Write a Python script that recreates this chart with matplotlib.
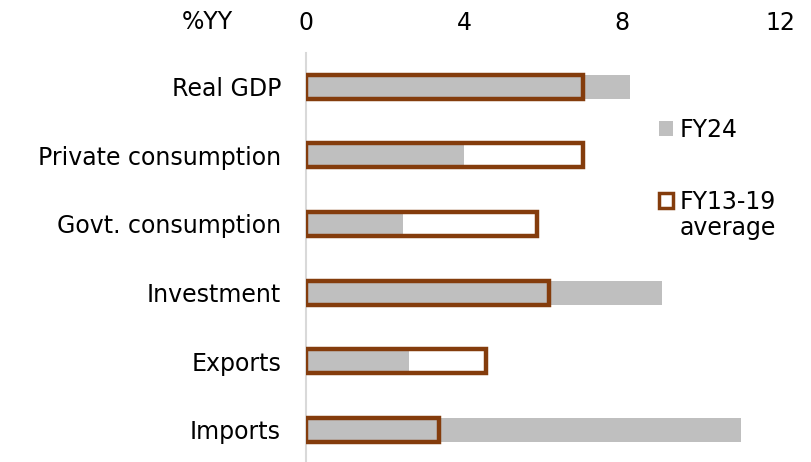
import numpy as np
import matplotlib.pyplot as plt
from matplotlib.patches import Patch

categories = ['Real GDP', 'Private consumption', 'Govt. consumption',
              'Investment', 'Exports', 'Imports']
fy24 = [8.2, 4.0, 2.45, 9.0, 2.6, 11.0]
fy13_19 = [7.0, 7.0, 5.85, 6.15, 4.55, 3.35]
xticks = [0, 4, 8, 12]

gray = '#BFBFBF'
brown = '#843C0C'
fs = 17

fig = plt.figure(figsize=(8.12, 4.62), dpi=100)
ax = fig.add_axes([0.377, -0.004, 0.584, 0.89])

y = np.arange(len(categories))
ax.barh(y, fy24, height=0.35, color=gray, zorder=2)
ax.barh(y, fy13_19, height=0.35, facecolor='none', edgecolor=brown,
        linewidth=3.2, zorder=3)

ax.set_ylim(len(categories) - 0.5, -0.5)
ax.set_xlim(0, 12)
ax.set_xticks(xticks)
ax.set_xticklabels([str(t) for t in xticks])
ax.xaxis.tick_top()
ax.tick_params(axis='x', length=0, pad=13, labelsize=fs)
ax.set_yticks(y)
ax.set_yticklabels(categories)
ax.tick_params(axis='y', length=0, pad=18, labelsize=fs)

for s in ['top', 'right', 'bottom']:
    ax.spines[s].set_visible(False)
ax.spines['left'].set_color('#D9D9D9')
ax.spines['left'].set_linewidth(1.5)

fig.text(207 / 812, 1 - 22 / 462, '%YY', fontsize=fs, ha='center', va='center')

handles = [Patch(facecolor=gray, edgecolor='none'),
           Patch(facecolor='white', edgecolor=brown, linewidth=2.5)]
ax.legend(handles, ['FY24', 'FY13-19'], loc='upper left',
          bbox_to_anchor=(0.699, 0.893), frameon=False, fontsize=fs,
          handlelength=0.6, handleheight=0.6, handletextpad=0.3,
          labelspacing=2.05, borderpad=0.4)
fig.text(680 / 812, 1 - 228 / 462, 'average', fontsize=fs, ha='left', va='center')

fig.savefig('out.png', dpi=100)
